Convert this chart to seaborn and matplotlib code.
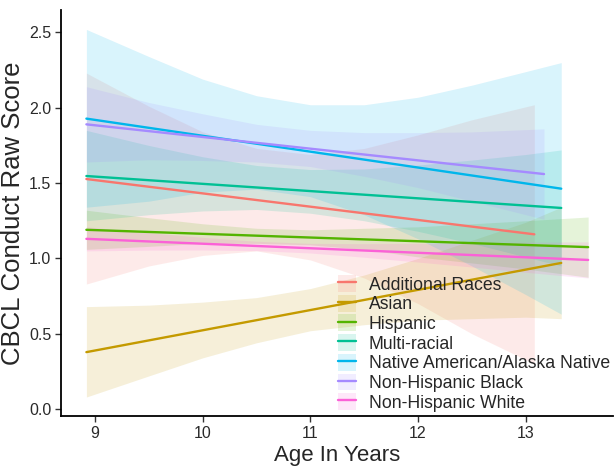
import pandas as pd
import matplotlib.pyplot as plt
import seaborn as sns
from matplotlib.patches import Patch
from matplotlib.lines import Line2D

# groups and colours (ggplot hue palette)
groups = ['Additional Races', 'Asian', 'Hispanic', 'Multi-racial',
          'Native American/Alaska Native', 'Non-Hispanic Black', 'Non-Hispanic White']
colors = ['#F8766D', '#C49A00', '#53B400', '#00C094', '#00B6EB', '#A58AFF', '#FB61D7']

# fitted line ends
x_start = [8.92, 8.92, 8.92, 8.92, 8.92, 8.92, 8.92]
x_end = [13.08, 13.33, 13.58, 13.33, 13.33, 13.17, 13.58]
y_start = [1.527, 0.378, 1.19, 1.547, 1.928, 1.89, 1.13]
y_end = [1.16, 0.97, 1.075, 1.335, 1.463, 1.56, 0.99]

# confidence bands
x_add = [8.92, 9.5, 10, 10.5, 11, 11.5, 12, 12.5, 13.08]
lo_add = [0.83, 0.95, 1.02, 1.05, 0.99, 0.87, 0.70, 0.50, 0.30]
hi_add = [2.23, 2.01, 1.84, 1.73, 1.69, 1.73, 1.82, 1.92, 2.02]

x_asian = [8.92, 9.5, 10, 10.5, 11, 11.5, 12, 12.5, 13, 13.33]
lo_asian = [0.08, 0.22, 0.34, 0.44, 0.52, 0.56, 0.59, 0.60, 0.61, 0.60]
hi_asian = [0.68, 0.69, 0.71, 0.74, 0.80, 0.89, 1.00, 1.12, 1.24, 1.34]

x_hisp = [8.92, 9.5, 10, 10.5, 11, 11.5, 12, 12.5, 13, 13.58]
lo_hisp = [1.06, 1.08, 1.10, 1.10, 1.09, 1.06, 1.01, 0.97, 0.93, 0.875]
hi_hisp = [1.32, 1.27, 1.23, 1.20, 1.19, 1.20, 1.21, 1.23, 1.25, 1.275]

x_multi = [8.92, 9.5, 10, 10.5, 11, 11.5, 12, 12.5, 13, 13.33]
lo_multi = [1.25, 1.29, 1.315, 1.325, 1.30, 1.25, 1.18, 1.10, 1.01, 0.95]
hi_multi = [1.85, 1.75, 1.675, 1.617, 1.59, 1.594, 1.62, 1.653, 1.69, 1.72]

x_native = [8.92, 9.5, 10, 10.5, 11, 11.5, 12, 12.5, 13, 13.33]
lo_native = [1.34, 1.38, 1.44, 1.46, 1.41, 1.29, 1.13, 0.95, 0.76, 0.63]
hi_native = [2.52, 2.34, 2.19, 2.08, 2.02, 2.02, 2.07, 2.15, 2.24, 2.30]

x_black = [8.92, 9.5, 10, 10.5, 11, 11.5, 12, 12.5, 13.17]
lo_black = [1.64, 1.655, 1.65, 1.64, 1.61, 1.545, 1.47, 1.38, 1.26]
hi_black = [2.14, 2.035, 1.96, 1.89, 1.85, 1.835, 1.835, 1.84, 1.86]

x_white = [8.92, 9.5, 10, 10.5, 11, 11.5, 12, 12.5, 13, 13.58]
lo_white = [1.05, 1.055, 1.056, 1.052, 1.036, 1.008, 0.976, 0.943, 0.908, 0.87]
hi_white = [1.21, 1.171, 1.14, 1.114, 1.10, 1.098, 1.10, 1.103, 1.108, 1.11]

band_x = [x_add, x_asian, x_hisp, x_multi, x_native, x_black, x_white]
band_lo = [lo_add, lo_asian, lo_hisp, lo_multi, lo_native, lo_black, lo_white]
band_hi = [hi_add, hi_asian, hi_hisp, hi_multi, hi_native, hi_black, hi_white]

lines = pd.DataFrame({
    'age': x_start + x_end,
    'score': y_start + y_end,
    'race': groups + groups,
})

sns.set_style('ticks')
plt.rcParams['font.family'] = ['Liberation Sans', 'DejaVu Sans']

fig, ax = plt.subplots(figsize=(6.16, 4.69), dpi=100)
fig.subplots_adjust(left=0.099, right=0.995, bottom=0.113, top=0.979)

for i, g in enumerate(groups):
    ax.fill_between(band_x[i], band_lo[i], band_hi[i], color=colors[i],
                    alpha=0.15, linewidth=0)
    sns.lineplot(data=lines[lines['race'] == g], x='age', y='score',
                 color=colors[i], linewidth=1.7, ax=ax, legend=False)

ax.set_xlim(8.684, 13.81)
ax.set_ylim(-0.046, 2.65)
ax.set_xticks([9, 10, 11, 12, 13])
ax.set_xticklabels(['9', '10', '11', '12', '13'])
ax.set_yticks([0.0, 0.5, 1.0, 1.5, 2.0, 2.5])
ax.set_yticklabels(['0.0', '0.5', '1.0', '1.5', '2.0', '2.5'])
ax.tick_params(labelsize=11.5, labelcolor='#2a2a2a', color='#333333',
               length=4, width=1, pad=3)
ax.set_xlabel('Age In Years', fontsize=16, labelpad=3)
ax.set_ylabel('CBCL Conduct Raw Score', fontsize=18.5, labelpad=3)
sns.despine(ax=ax)
for s in ['left', 'bottom']:
    ax.spines[s].set_linewidth(1.3)
    ax.spines[s].set_color('black')

handles = [(Patch(facecolor=c, alpha=0.15, linewidth=0),
            Line2D([], [], color=c, linewidth=1.7)) for c in colors]
ax.legend(handles, groups, loc='upper left', bbox_to_anchor=(0.502, 0.347),
          frameon=False, fontsize=12.7, handlelength=1.0, handleheight=1.1,
          labelspacing=0.07, handletextpad=0.75, borderaxespad=0, borderpad=0)

plt.savefig('out.png', dpi=100)
